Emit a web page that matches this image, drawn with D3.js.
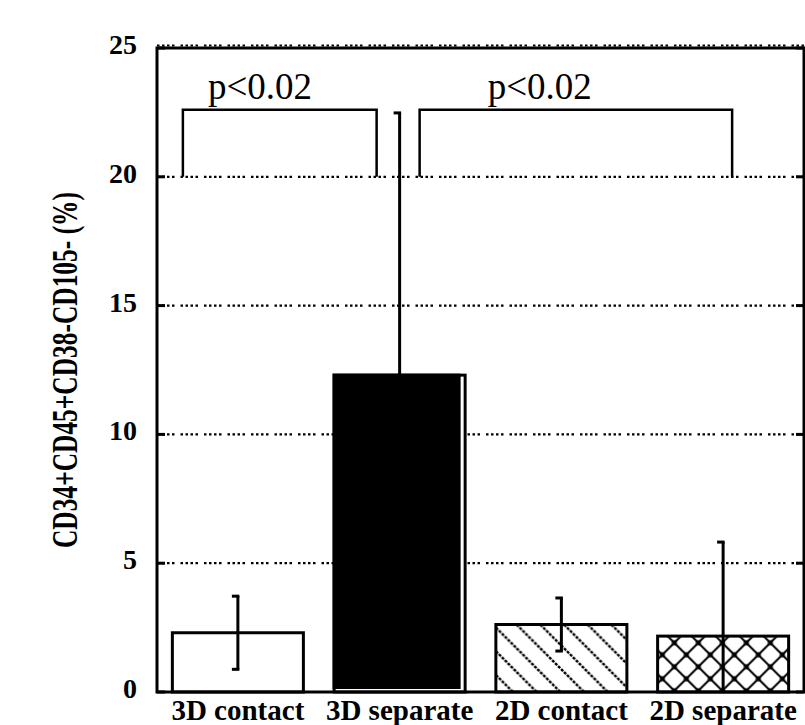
<!DOCTYPE html>
<html><head><meta charset="utf-8">
<script src="https://cdn.jsdelivr.net/npm/d3@7"></script>
<style>body{margin:0;background:#fff;} svg{display:block;}</style>
</head><body>
<svg id="chart" width="805" height="725"></svg>
<script>
// ---- data ----
const categories = ["3D contact", "3D separate", "2D contact", "2D separate"];
const means = [2.30, 12.30, 2.62, 2.17];
const errors = [1.42, 10.18, 1.03, 3.65];
const fills = ["none", "solid", "diag", "cross"];
const yTicks = [0, 5, 10, 15, 20, 25];
const gridValues = [5, 10, 15, 20, 25];
const yLabel = "CD34+CD45+CD38-CD105- (%)";
const bracketFrom = ["3D contact", "3D separate"];
const bracketTo = ["3D separate", "2D separate"];
const bracketTop = [22.6, 22.6];
const bracketBase = [20, 20];
const bracketLabels = ["p<0.02", "p<0.02"];

// ---- layout ----
const svg = d3.select("#chart");
const L = 157, R = 804, T = 48, B = 692;
const serif = "'Liberation Serif','Times New Roman',serif";

const x = d3.scaleBand().domain(categories).range([L, R]).paddingInner(0.19).paddingOuter(0.095);
const y = d3.scaleLinear().domain([0, 25]).range([B, T]);

const defs = svg.append("defs");
// diagonal hatch
const step = 23.7;
const pd = defs.append("pattern").attr("id", "diag").attr("patternUnits", "userSpaceOnUse")
  .attr("width", step).attr("height", step)
  .attr("patternTransform", `translate(${x("2D contact") + 20.7},${y(means[2])})`);
pd.append("path").attr("d", `M0,0L${step},${step}M${-step/2},${step/2}L${step/2},${step*1.5}M${step/2},${-step/2}L${step*1.5},${step/2}`)
  .attr("stroke", "#000").attr("stroke-width", 2.4).attr("stroke-dasharray", "3,1.2");
// cross hatch
const cs = 24;
const pc = defs.append("pattern").attr("id", "cross").attr("patternUnits", "userSpaceOnUse")
  .attr("width", cs).attr("height", cs)
  .attr("patternTransform", `translate(${x("2D separate") + 16.7},${y(means[3]) + 6.7})`);
pc.append("path").attr("d", `M0,0L${cs},${cs}M${cs},0L0,${cs}`)
  .attr("stroke", "#000").attr("stroke-width", 2);
[[0,0],[cs,0],[0,cs],[cs,cs],[cs/2,cs/2]].forEach(p => {
  pc.append("rect").attr("x", p[0]-2.5).attr("y", p[1]-2.5).attr("width", 5).attr("height", 5).attr("fill", "#000");
});

// gridlines
svg.append("g").selectAll("line").data(gridValues).join("line")
  .attr("x1", L).attr("x2", R)
  .attr("y1", d => d === 25 ? y(d) - 2.5 : y(d)).attr("y2", d => d === 25 ? y(d) - 2.5 : y(d))
  .attr("stroke", "#000").attr("stroke-width", 2.2)
  .attr("stroke-dasharray", "2.5,2.5,2.5,2.5,2.5,2.5,2.5,6");

// bars
const data = categories.map((c, i) => ({c, m: means[i], e: errors[i], f: fills[i]}));
const bars = svg.append("g");
data.forEach(d => {
  const x0 = x(d.c), w = x.bandwidth(), y0 = y(d.m), h = y(0) - y(d.m);
  if (d.f === "solid") {
    bars.append("rect").attr("x", x0).attr("y", y0).attr("width", w).attr("height", h)
      .attr("fill", "#fff").attr("stroke", "#000").attr("stroke-width", 3);
    bars.append("rect").attr("x", x0 - 1.5).attr("y", y0 - 1.5).attr("width", w - 3).attr("height", h - 1.5)
      .attr("fill", "#000");
  } else {
    bars.append("rect").attr("x", x0).attr("y", y0).attr("width", w).attr("height", h)
      .attr("fill", d.f === "none" ? "#fff" : `url(#${d.f})`)
      .attr("stroke", "#000").attr("stroke-width", 3);
  }
});

// error bars
const eb = svg.append("g").attr("stroke", "#000").attr("stroke-width", 3);
data.forEach(d => {
  const cx = x(d.c) + x.bandwidth() / 2;
  const lo = Math.max(0, d.m - d.e), hi = d.m + d.e;
  eb.append("line").attr("x1", cx).attr("x2", cx).attr("y1", y(lo)).attr("y2", y(hi));
  eb.append("line").attr("x1", cx - 6).attr("x2", cx + 1.5).attr("y1", y(hi)).attr("y2", y(hi));
  if (d.m - d.e > 0) eb.append("line").attr("x1", cx - 6).attr("x2", cx + 1.5).attr("y1", y(lo)).attr("y2", y(lo));
});

// frame
const fr = svg.append("g").attr("stroke", "#000").attr("stroke-width", 3).attr("fill", "none");
fr.append("rect").attr("x", L).attr("y", T).attr("width", R - L).attr("height", B - T);

// ticks (inward both sides)
svg.append("g").selectAll("line.tl").data(yTicks).join("line")
  .attr("x1", L).attr("x2", L + 8).attr("y1", d => y(d)).attr("y2", d => y(d))
  .attr("stroke", "#000").attr("stroke-width", 3);
svg.append("g").selectAll("line.tr").data(yTicks).join("line")
  .attr("x1", R - 8).attr("x2", R).attr("y1", d => y(d)).attr("y2", d => y(d))
  .attr("stroke", "#000").attr("stroke-width", 3);

// tick labels
svg.append("g").selectAll("text").data(yTicks).join("text")
  .attr("x", L - 20).attr("y", d => y(d) + 6)
  .attr("text-anchor", "end").attr("font-family", serif).attr("font-weight", "bold")
  .attr("font-size", 28).text(d => d);

// category labels
svg.append("g").selectAll("text").data(categories).join("text")
  .attr("x", d => x(d) + x.bandwidth() / 2).attr("y", 720)
  .attr("text-anchor", "middle").attr("font-family", serif).attr("font-weight", "bold")
  .attr("font-size", 29).text(d => d);

// y label
svg.append("text").attr("transform", "translate(77,370) rotate(-90)")
  .attr("text-anchor", "middle").attr("font-family", serif).attr("font-weight", "bold")
  .attr("font-size", 36).attr("textLength", 356).attr("lengthAdjust", "spacingAndGlyphs")
  .text(yLabel);

// significance brackets
const bOff = [[-55, -23], [20, 9]];
const labOff = [25, 68];
const bg = svg.append("g");
bracketFrom.forEach((f, i) => {
  const x1 = x(f) + x.bandwidth() / 2 + bOff[i][0];
  const x2 = x(bracketTo[i]) + x.bandwidth() / 2 + bOff[i][1];
  bg.append("path")
    .attr("d", `M${x1},${y(bracketBase[i])}V${y(bracketTop[i])}H${x2}V${y(bracketBase[i])}`)
    .attr("fill", "none").attr("stroke", "#000").attr("stroke-width", 2.5);
  bg.append("text").attr("x", x1 + labOff[i]).attr("y", y(bracketTop[i]) - 11)
    .attr("font-family", serif).attr("font-size", 37).text(bracketLabels[i]);
});
</script>
</body></html>
